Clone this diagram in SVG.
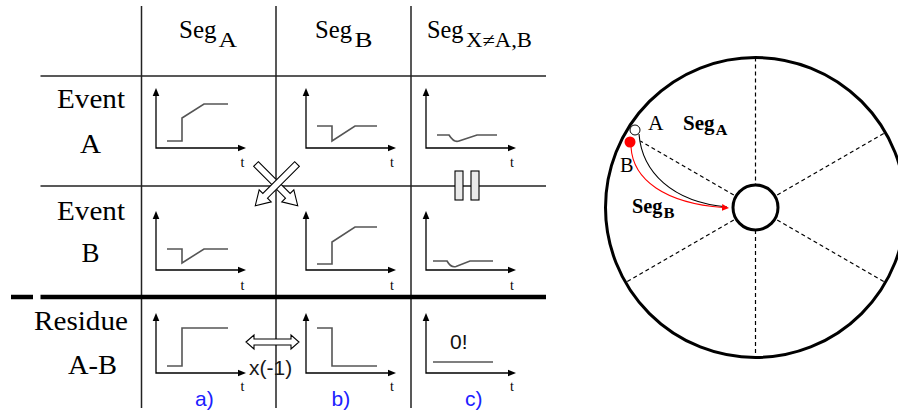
<svg xmlns="http://www.w3.org/2000/svg" width="898" height="413" viewBox="0 0 898 413">
<style>
.grid{stroke:#222;stroke-width:1.5;fill:none}
.thick{stroke:#000;stroke-width:4.5;fill:none}
.axis{stroke:#000;stroke-width:1.3;fill:none;marker-start:url(#ah);marker-end:url(#ah)}
.crv{stroke:#555;stroke-width:1.6;fill:none;stroke-linejoin:miter}
.serif{font-family:"Liberation Serif","Times New Roman",Times,serif;fill:#000}
.sans{font-family:"Liberation Sans",Arial,sans-serif}
.tl{font-family:"Liberation Serif","Times New Roman",Times,serif;font-size:14px;fill:#000}
.lbl{font-family:"Liberation Sans",Arial,sans-serif;font-size:21px;fill:#2020ff}
.blk{fill:#fff;stroke:#000;stroke-width:1.1;stroke-linejoin:miter}
.spoke{stroke:#000;stroke-width:1.2;stroke-dasharray:4 3;fill:none}
</style>
<defs>
<marker id="ah" markerUnits="userSpaceOnUse" markerWidth="8" markerHeight="8" viewBox="0 -4 8 8" refX="1" refY="0" orient="auto-start-reverse">
<path d="M0,-3.3 L8,0 L0,3.3 Z" fill="#000"/>
</marker>
<marker id="ar" markerUnits="userSpaceOnUse" markerWidth="8" markerHeight="8" viewBox="0 -4 8 8" refX="1" refY="0" orient="auto">
<path d="M0,-3.5 L7,0 L0,3.5 Z" fill="#f00"/>
</marker>
</defs>

<g id="grid">
<line class="grid" x1="141.5" y1="6" x2="141.5" y2="408"/>
<line class="grid" x1="276" y1="6" x2="276" y2="408"/>
<line class="grid" x1="411" y1="6" x2="411" y2="408"/>
<line class="grid" x1="40.5" y1="76" x2="546" y2="76"/>
<line class="grid" x1="40.5" y1="186" x2="546" y2="186"/>
<line class="thick" x1="40.5" y1="297" x2="546" y2="297"/>
<line class="thick" x1="11" y1="297" x2="33" y2="297"/>
</g>

<g id="header-segA">
<text class="serif" x="179" y="37.5" font-size="26" textLength="37.5" lengthAdjust="spacingAndGlyphs">Seg</text>
<text class="serif" x="218.5" y="46.5" font-size="20" textLength="18.5" lengthAdjust="spacingAndGlyphs">A</text>
</g>
<g id="header-segB">
<text class="serif" x="315" y="37.5" font-size="26" textLength="37" lengthAdjust="spacingAndGlyphs">Seg</text>
<text class="serif" x="354.5" y="46.5" font-size="20" textLength="18" lengthAdjust="spacingAndGlyphs">B</text>
</g>
<g id="header-segX">
<text class="serif" x="427" y="37.5" font-size="26" textLength="36.5" lengthAdjust="spacingAndGlyphs">Seg</text>
<text class="serif" x="466" y="46.5" font-size="20" textLength="66" lengthAdjust="spacingAndGlyphs">X≠A,B</text>
</g>

<g id="row-eventA">
<text class="serif" x="57" y="107.5" font-size="27" textLength="68" lengthAdjust="spacingAndGlyphs">Event</text>
<text class="serif" x="80" y="152.5" font-size="27" textLength="21" lengthAdjust="spacingAndGlyphs">A</text>
</g>
<g id="row-eventB">
<text class="serif" x="57" y="220" font-size="27" textLength="68" lengthAdjust="spacingAndGlyphs">Event</text>
<text class="serif" x="81.5" y="262" font-size="27" textLength="18" lengthAdjust="spacingAndGlyphs">B</text>
</g>
<g id="row-residue">
<text class="serif" x="34" y="330" font-size="27" textLength="94" lengthAdjust="spacingAndGlyphs">Residue</text>
<text class="serif" x="68" y="373.5" font-size="27" textLength="49" lengthAdjust="spacingAndGlyphs">A-B</text>
</g>

<g id="plot-eventA-segA">
<path class="axis" d="M156,95 L156,148 L239,148"/>
<path class="crv" d="M167,141 L182,141 L182,118 L204,104 L228,104"/>
<text class="tl" x="240.5" y="166.5">t</text>
</g>
<g id="plot-eventA-segB">
<path class="axis" d="M306,95 L306,148 L389,148"/>
<path class="crv" d="M317,126 L332,126 L332,141 L355,126 L377,126"/>
<text class="tl" x="390" y="166.5">t</text>
</g>
<g id="plot-eventA-segX">
<path class="axis" d="M426,95 L426,148 L509,148"/>
<path class="crv" d="M437,135 L449,135 Q454,143 459,141 L477,135 L497,135"/>
<text class="tl" x="510" y="166.5">t</text>
</g>

<g id="plot-eventB-segA">
<path class="axis" d="M156,218 L156,270 L239,270"/>
<path class="crv" d="M167,249 L182,249 L182,263 L204,249 L228,249"/>
<text class="tl" x="240.5" y="290">t</text>
</g>
<g id="plot-eventB-segB">
<path class="axis" d="M306,218 L306,270 L389,270"/>
<path class="crv" d="M317,264 L332,264 L332,242 L355,227 L377,227"/>
<text class="tl" x="390" y="290">t</text>
</g>
<g id="plot-eventB-segX">
<path class="axis" d="M426,218 L426,270 L509,270"/>
<path class="crv" d="M433,261 L447,261 Q451,268 456,266.5 L470,261 L493,261"/>
<text class="tl" x="510" y="290">t</text>
</g>

<g id="plot-residue-segA">
<path class="axis" d="M156,320 L156,373 L239,373"/>
<path class="crv" d="M167,366 L182,366 L182,328 L228,328"/>
<text class="tl" x="240.5" y="390.5">t</text>
</g>
<g id="plot-residue-segB">
<path class="axis" d="M306,320 L306,373 L389,373"/>
<path class="crv" d="M317,328 L332,328 L332,366 L377,366"/>
<text class="tl" x="390" y="390.5">t</text>
</g>
<g id="plot-residue-segX">
<path class="axis" d="M426,320 L426,373 L509,373"/>
<path class="crv" d="M433,362 L493,362"/>
<text class="sans" x="450" y="348.5" font-size="21" fill="#111">0!</text>
<text class="tl" x="510" y="390.5">t</text>
</g>

<g id="labels">
<text class="lbl" x="195" y="405.5">a)</text>
<text class="lbl" x="331.5" y="405.5">b)</text>
<text class="lbl" x="465" y="405.5">c)</text>
</g>

<g id="connectors">
<path class="blk" transform="translate(256,164) rotate(45)" d="M0,-3.3 L45,-3.3 L45,-8.5 L59,0 L45,8.5 L45,3.3 L0,3.3 Z"/>
<path class="blk" transform="translate(297,164) rotate(135)" d="M0,-3.3 L45,-3.3 L45,-8.5 L59,0 L45,8.5 L45,3.3 L0,3.3 Z"/>
<path class="blk" d="M246,342 L254,335 L254,339 L291,339 L291,335 L299,342 L291,349 L291,345 L254,345 L254,349 Z"/>
</g>
<g id="x-minus-1">
<text class="sans" x="249" y="375" font-size="21" fill="#1a1a1a">x(-1)</text>
</g>

<g id="break-symbol">
<rect x="455" y="171" width="8" height="29" fill="#eaeaea" stroke="#000" stroke-width="1.1"/>
<rect x="471" y="171" width="8" height="29" fill="#eaeaea" stroke="#000" stroke-width="1.1"/>
</g>

<g id="disk">
<circle cx="755.5" cy="207.5" r="150" fill="none" stroke="#000" stroke-width="3"/>
<line class="spoke" x1="755.5" y1="57.5" x2="755.5" y2="185"/>
<line class="spoke" x1="755.5" y1="230" x2="755.5" y2="357.5"/>
<line class="spoke" x1="777.2" y1="195" x2="885.4" y2="132.5"/>
<line class="spoke" x1="777.2" y1="220" x2="885.4" y2="282.5"/>
<line class="spoke" x1="733.8" y1="220" x2="625.6" y2="282.5"/>
<line class="spoke" x1="733.8" y1="195" x2="640.3" y2="141"/>
<circle cx="755.5" cy="207.5" r="22.5" fill="#fff" stroke="#000" stroke-width="3"/>
</g>

<g id="paths">
<path d="M639,134 C642,172 672,202 727,207" fill="none" stroke="#000" stroke-width="1.1"/>
<path d="M631,147 C633,180 665,203 723,207.5" fill="none" stroke="#f00" stroke-width="1.1" marker-end="url(#ar)"/>
</g>

<g id="point-A">
<circle cx="635" cy="130" r="5" fill="#fff" stroke="#000" stroke-width="1"/>
<text class="serif" x="648" y="130" font-size="20" textLength="15.5" lengthAdjust="spacingAndGlyphs">A</text>
</g>
<g id="point-B">
<circle cx="630" cy="142" r="5.5" fill="#f00"/>
<text class="serif" x="620" y="172" font-size="22" fill="#f00" textLength="13.5" lengthAdjust="spacingAndGlyphs">B</text>
</g>
<g id="label-segA">
<text class="serif" x="683" y="130" font-size="22" font-weight="bold" textLength="31.5" lengthAdjust="spacingAndGlyphs">Seg</text>
<text class="serif" x="715.5" y="135" font-size="15" font-weight="bold" textLength="12" lengthAdjust="spacingAndGlyphs">A</text>
</g>
<g id="label-segB">
<text class="serif" x="632" y="213" font-size="22" font-weight="bold" textLength="30.5" lengthAdjust="spacingAndGlyphs">Seg</text>
<text class="serif" x="663.5" y="218" font-size="15" font-weight="bold" textLength="11" lengthAdjust="spacingAndGlyphs">B</text>
</g>
</svg>
